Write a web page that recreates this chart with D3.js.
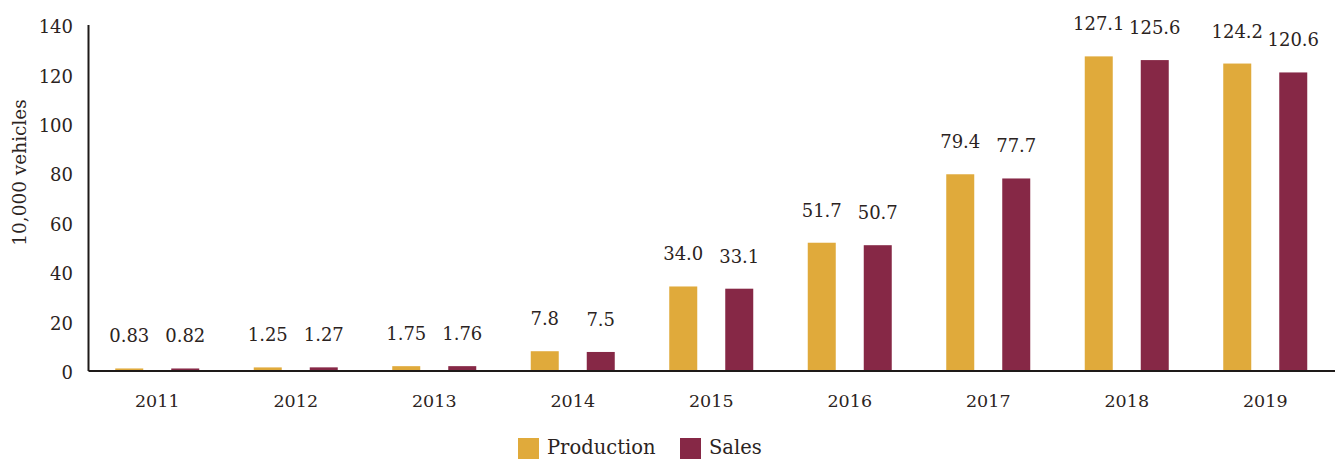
<!DOCTYPE html>
<html>
<head>
<meta charset="utf-8">
<script src="https://cdn.jsdelivr.net/npm/d3@7"></script>
<style>
  body { margin: 0; background: #fff; }
  text { font-family: "DejaVu Serif", serif; fill: #2b2321; }
</style>
</head>
<body>
<div id="chart"></div>
<script>
// data (unit: 10,000 vehicles)
const years = ["2011", "2012", "2013", "2014", "2015", "2016", "2017", "2018", "2019"];
const production = [0.83, 1.25, 1.75, 7.8, 34.0, 51.7, 79.4, 127.1, 124.2];
const sales = [0.82, 1.27, 1.76, 7.5, 33.1, 50.7, 77.7, 125.6, 120.6];
const yTicks = [0, 20, 40, 60, 80, 100, 120, 140];
const seriesNames = ["Production", "Sales"];

const W = 1336, H = 459;
const margin = {top: 24.5, right: 1.5, bottom: 88.5, left: 88};
const width = W - margin.left - margin.right,
      height = H - margin.top - margin.bottom;

const data = years.map((y, i) => ({year: y, Production: production[i], Sales: sales[i]}));

const svg = d3.select("#chart")
  .append("svg")
    .attr("width", W)
    .attr("height", H)
  .append("g")
    .attr("transform", `translate(${margin.left},${margin.top})`);

const x = d3.scaleBand()
    .domain(years)
    .range([0, width])
    .padding(0);

const y = d3.scaleLinear()
    .domain([0, 140])
    .range([height, 0]);

// inner scale: two 28px bars with a 28px gap, centred in each band
const barW = 28;
const xSub = d3.scaleOrdinal()
    .domain(seriesNames)
    .range([-1.5 * barW, 0.5 * barW]);

const color = d3.scaleOrdinal()
    .domain(seriesNames)
    .range(["#e0aa3b", "#862846"]);

const fmt = v => v < 2 ? d3.format(".2f")(v) : d3.format(".1f")(v);

// bars
const groups = svg.append("g")
  .selectAll("g")
  .data(data)
  .join("g")
    .attr("transform", d => `translate(${x(d.year) + x.bandwidth() / 2}, 0)`);

groups.selectAll("rect")
  .data(d => seriesNames.map(k => ({key: k, value: d[k]})))
  .join("rect")
    .attr("x", d => xSub(d.key))
    .attr("y", d => y(d.value))
    .attr("width", barW)
    .attr("height", d => height - y(d.value))
    .attr("fill", d => color(d.key));

groups.selectAll("text")
  .data(d => seriesNames.map(k => ({key: k, value: d[k]})))
  .join("text")
    .attr("x", d => xSub(d.key) + barW / 2)
    .attr("y", d => y(d.value) - 26)
    .attr("text-anchor", "middle")
    .style("font-size", "18px")
    .text(d => fmt(d.value));

// y axis
const yAxis = svg.append("g")
  .call(d3.axisLeft(y).tickValues(yTicks).tickSize(0).tickPadding(15));
yAxis.select(".domain").attr("stroke", "#1e1a19").attr("stroke-width", 2);
yAxis.selectAll("text").style("font-size", "18px").attr("fill", "#2b2321").attr("dy", "0.45em");

// x axis
const xAxis = svg.append("g")
  .attr("transform", `translate(0,${height})`)
  .call(d3.axisBottom(x).tickSize(0).tickPadding(24));
xAxis.select(".domain").attr("stroke", "#1e1a19").attr("stroke-width", 2);
xAxis.selectAll("text").style("font-size", "17.5px").attr("fill", "#2b2321");

// y axis title
svg.append("text")
  .attr("transform", `translate(${-margin.left + 26},${height / 2 - 25}) rotate(-90)`)
  .attr("text-anchor", "middle")
  .style("font-size", "18.5px")
  .text("10,000 vehicles");

// legend
const legendX = [518 - margin.left, 680 - margin.left];
const legend = svg.append("g")
  .selectAll("g")
  .data(seriesNames)
  .join("g")
    .attr("transform", (d, i) => `translate(${legendX[i]},${438 - margin.top})`);
legend.append("rect")
  .attr("width", 21)
  .attr("height", 21)
  .attr("fill", d => color(d));
legend.append("text")
  .attr("x", 29)
  .attr("y", 16)
  .style("font-size", "19.5px")
  .text(d => d);
</script>
</body>
</html>
